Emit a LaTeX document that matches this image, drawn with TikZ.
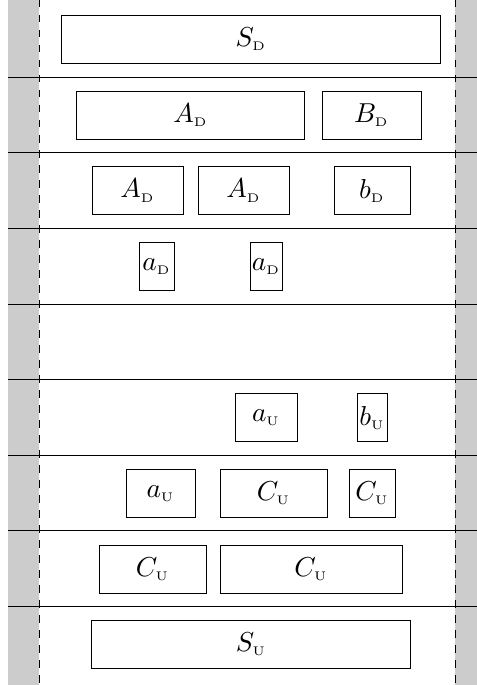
\documentclass[tikz,border=0pt]{standalone}
\newcommand\mylbl[2]{$#1_{\hbox{\fontsize{5}{6}\selectfont #2}}$}
\begin{document}
\begin{tikzpicture}[x=0.4pt,y=-0.4pt,
  blk/.style={draw, line width=0.4pt, inner sep=0pt, minimum height=19.2pt,
    font=\fontsize{10.95}{13}\selectfont},
  sep/.style={line width=0.45pt},
  lane/.style={fill=black!20},
  border/.style={dashed, line width=0.4pt}]
\useasboundingbox (0,0) rectangle (477,685);
\fill[lane] (8,0) rectangle (39,685);
\fill[lane] (455,0) rectangle (477,685);
\foreach \y in {77.3,152.9,228.5,304.1,379.7,455.3,530.9,606.5}
  \draw[sep] (8,\y) -- (477,\y);
\coordinate (lt) at (39,0);
\coordinate (lb) at (39,685);
\coordinate (rt) at (455,0);
\coordinate (rb) at (455,685);
\draw[border] (lt) -- (lb);
\draw[border] (rt) -- (rb);
% row 1
\node[blk, minimum width=151.2pt] (sd) at (251,39.3) {\mylbl{S}{D}};
% row 2
\node[blk, minimum width=90.8pt] (ad1) at (190.5,115.3) {\mylbl{A}{D}};
\node[blk, minimum width=39.6pt] (bd1) at (371.5,115.3) {\mylbl{B}{D}};
% row 3
\node[blk, minimum width=36.4pt] (ad2) at (137.5,190.7) {\mylbl{A}{D}};
\node[blk, minimum width=36.4pt] (ad3) at (243.5,190.7) {\mylbl{A}{D}};
\node[blk, minimum width=30.4pt] (bd2) at (372,190.7) {\mylbl{b}{D}};
% row 4
\node[blk, minimum width=14pt] (ad4) at (156.5,266.5) {\mylbl{a}{D}};
\node[blk, minimum width=12.8pt] (ad5) at (266,266.5) {\mylbl{a}{D}};
% row 6
\node[blk, minimum width=24.8pt] (au1) at (266,417.7) {\mylbl{a}{U}};
\node[blk, minimum width=12pt] (bu1) at (372,417.7) {\mylbl{b}{U}};
% row 7
\node[blk, minimum width=27.6pt] (au2) at (160.5,493.3) {\mylbl{a}{U}};
\node[blk, minimum width=42.8pt] (cu1) at (273.5,493.3) {\mylbl{C}{U}};
\node[blk, minimum width=18.4pt] (cu2) at (372,493.3) {\mylbl{C}{U}};
% row 8
\node[blk, minimum width=42.8pt] (cu3) at (152.5,569.3) {\mylbl{C}{U}};
\node[blk, minimum width=72.8pt] (cu4) at (311,569.3) {\mylbl{C}{U}};
% row 9
\node[blk, minimum width=127.2pt] (su) at (251,644.7) {\mylbl{S}{U}};
\end{tikzpicture}
\end{document}
